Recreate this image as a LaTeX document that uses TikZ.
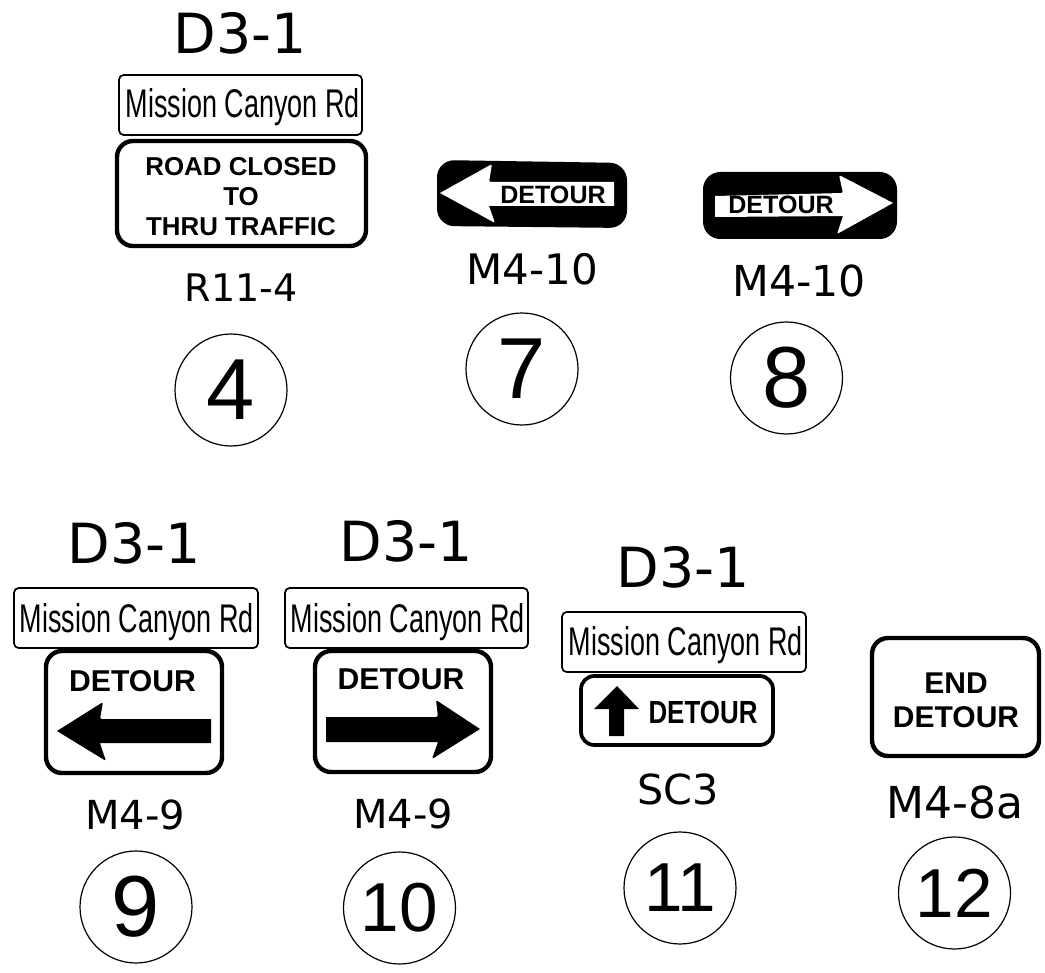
\documentclass[tikz,border=0pt]{standalone}
\usepackage{fontspec}
\setmainfont{Liberation Sans}
\newfontfamily\labelfont{DejaVu Sans}
\newfontfamily\plainfont{Liberation Sans}
\newfontfamily\narrowfont[FakeStretch=0.675]{Liberation Sans}
\newfontfamily\narrowbold[FakeStretch=0.81]{Liberation Sans Bold}
\newfontfamily\boldfont{Liberation Sans Bold}
\newcommand{\fs}[1]{\fontsize{#1}{#1}\selectfont}
\tikzset{
  x=0.75pt,y=-0.75pt,
  plate/.style={draw=black,fill=white,line width=1.3pt,rounded corners=3.5pt},
  signbox/.style={draw=black,fill=white,line width=3.3pt,rounded corners=12pt},
  signthin/.style={draw=black,fill=white,line width=2.8pt,rounded corners=10pt},
  blacksign/.style={fill=black,rounded corners=13pt},
  whitearrow/.style={fill=white},
  blackarrow/.style={fill=black},
  barb/.style={rounded corners=1.5pt},
  marker/.style={draw=black,line width=0.9pt,circle,minimum size=84pt,inner sep=0pt,font=\plainfont\fs{65}},
  markerwide/.style={draw=black,line width=0.9pt,circle,minimum size=84pt,inner sep=0pt,font=\plainfont\fs{52}},
  codelabel/.style={font=\labelfont\fs{#1},inner sep=0pt},
  plateword/.style={font=\narrowfont\fs{30},inner sep=0pt,anchor=base},
  signword/.style={font=\boldfont\fs{#1},inner sep=0pt,align=center},
}
\begin{document}
\begin{tikzpicture}
\useasboundingbox (0,0) rectangle (1045,973);
% top left assembly
\node[codelabel=41.5] (d1) at (240,33) {D3-1};
\draw[plate] (119,75) rectangle (362,135);
\node[plateword] (p1) at (243,118) {Mission Canyon Rd};
\draw[signbox] (117,141) rectangle (366,246);
\node[signword=19.4] (rc1) at (241,167) {ROAD CLOSED};
\node[signword=19.4] (rc2) at (241,197) {TO};
\node[signword=19.4] (rc3) at (241,227) {THRU TRAFFIC};
\node[codelabel=28.5] (l4) at (241,288) {R11-4};
\node[marker] (c4) at (231,390) {4};
% M4-10 left
\path[blacksign] (437,160) -- (627,163) -- (627,228) -- (437,226) -- cycle;
\path[whitearrow] (440,193) [barb] -- (492,164) -- (489,182) [sharp corners] -- (614,182) -- (614,206) -- (489,206) [barb] -- (495,223) [sharp corners] -- cycle;
\node[signword=18.8] (t7) at (553,195) {DETOUR};
\node[codelabel=31.5] (l7) at (532,269) {M4-10};
\node[marker] (c7) at (522,369) {7};
% M4-10 right
\path[blacksign] (703,172) -- (897,172) -- (897,239) -- (703,239) -- cycle;
\path[whitearrow] (893,203) [barb] -- (839,175) -- (843,193) [sharp corners] -- (715,196) -- (715,217) -- (843,216) [barb] -- (837,234) [sharp corners] -- cycle;
\node[signword=18.8] (t8) at (781,205) {DETOUR};
\node[codelabel=32] (l8) at (799,281) {M4-10};
\node[marker] (c8) at (786.5,378) {8};
% lower left
\node[codelabel=41.5] (d9) at (134,543) {D3-1};
\draw[plate] (14,588) rectangle (258,648);
\node[plateword] (p9) at (137,632) {Mission Canyon Rd};
\draw[signbox] (46,651) rectangle (222,773);
\node[signword=22.6] (t9) at (132.5,681) {DETOUR};
\path[blackarrow] (57,731) [barb] -- (103,702) -- (100,719) [sharp corners] -- (211,719) -- (211,743) -- (100,743) [barb] -- (106,761) [sharp corners] -- cycle;
\node[codelabel=30] (l9) at (135,815) {M4-9};
\node[marker] (c9) at (136,907) {9};
% lower second
\node[codelabel=41.5] (d10) at (406,541) {D3-1};
\draw[plate] (285,588) rectangle (528,648);
\node[plateword] (p10) at (408,632) {Mission Canyon Rd};
\draw[signbox] (315,651) rectangle (491,772);
\node[signword=22.6] (t10) at (401,679) {DETOUR};
\path[blackarrow] (480,729) [barb] -- (436,700) -- (438,717) [sharp corners] -- (326,717) -- (326,742) -- (438,742) [barb] -- (432,759) [sharp corners] -- cycle;
\node[codelabel=30] (l10) at (403,814) {M4-9};
\node[markerwide] (c10) at (399.5,908) {10};
% lower third
\node[codelabel=41.5] (d11) at (683,567) {D3-1};
\draw[plate] (562,612) rectangle (806,672);
\node[plateword] (p11) at (686,655) {Mission Canyon Rd};
\draw[signthin] (581,676) rectangle (773,745);
\path[blackarrow] (617,686) -- (594,709) -- (609,709) -- (609,736) -- (624,736) -- (624,709) -- (639,709) -- cycle;
\node[font=\narrowbold\fs{24},inner sep=0pt] (t11) at (703,712) {DETOUR};
\node[codelabel=31] (l11) at (678,789) {SC3};
\node[markerwide] (c11) at (680,888) {11};
% lower right
\draw[signbox] (872,638) rectangle (1039,756);
\node[signword=22.5] (e1) at (956,683) {END};
\node[signword=22.5] (e2) at (956,717) {DETOUR};
\node[codelabel=33] (l12) at (955,802) {M4-8a};
\node[markerwide] (c12) at (954.5,893) {12};
\end{tikzpicture}
\end{document}
